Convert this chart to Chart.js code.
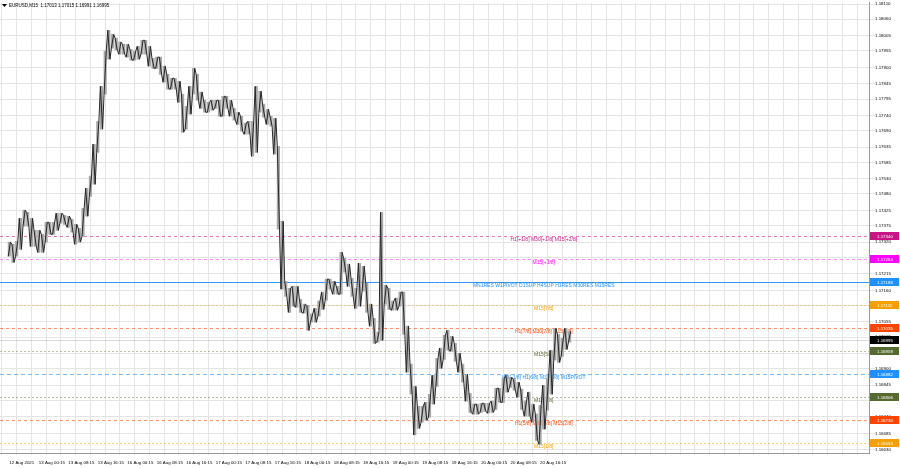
<!DOCTYPE html>
<html>
<head>
<meta charset="utf-8">
<script src="https://cdn.jsdelivr.net/npm/chart.js@4/dist/chart.umd.min.js"></script>
<style>
  html, body { margin: 0; padding: 0; background: #fff; }
  #wrap { width: 900px; height: 468px; }
</style>
</head>
<body>
<div id="wrap"><canvas id="chart" width="900" height="468"></canvas></div>
<script>
// hourly high / low of EURUSD, 12 Aug 16:00 -> 20 Aug close
const highs = [
  1.17320, 1.17313, 1.17323, 1.17399, 1.17426, 1.17419, 1.17399, 1.17359, 1.17359, 1.17346,
  1.17386, 1.17386, 1.17386, 1.17416, 1.17416, 1.17409, 1.17406, 1.17396, 1.17379, 1.17366,
  1.17432, 1.17499, 1.17539, 1.17645, 1.17721, 1.17837, 1.17954, 1.18023, 1.18010, 1.17997,
  1.17984, 1.17977, 1.17977, 1.17960, 1.17954, 1.17970, 1.17990, 1.17990, 1.17970, 1.17930,
  1.17934, 1.17934, 1.17904, 1.17877, 1.17864, 1.17864, 1.17854, 1.17811, 1.17771, 1.17837,
  1.17897, 1.17877, 1.17818, 1.17791, 1.17784, 1.17791, 1.17791, 1.17791, 1.17804, 1.17804,
  1.17791, 1.17764, 1.17751, 1.17738, 1.17715, 1.17721, 1.17721, 1.17837, 1.17821, 1.17778,
  1.17761, 1.17738, 1.17731, 1.17638, 1.17389, 1.17190, 1.17167, 1.17173, 1.17173, 1.17130,
  1.17114, 1.17110, 1.17081, 1.17100, 1.17124, 1.17154, 1.17197, 1.17197, 1.17190, 1.17173,
  1.17286, 1.17266, 1.17247, 1.17200, 1.17167, 1.17250, 1.17240, 1.17183, 1.17114, 1.17067,
  1.17021, 1.17419, 1.17177, 1.17167, 1.17124, 1.17134, 1.17154, 1.17154, 1.17041, 1.16915,
  1.16841, 1.16775, 1.16775, 1.16788, 1.16815, 1.16878, 1.16934, 1.16968, 1.17011, 1.17027,
  1.17007, 1.16984, 1.16951, 1.16915, 1.16881, 1.16818, 1.16782, 1.16782, 1.16785, 1.16785,
  1.16785, 1.16792, 1.16835, 1.16835, 1.16868, 1.16878, 1.16871, 1.16865, 1.16855, 1.16832,
  1.16792, 1.16822, 1.16782, 1.16749, 1.16778, 1.16845, 1.16868, 1.16961, 1.17034, 1.17014,
  1.17001, 1.17034, 1.17024
];
const lows = [
  1.17273, 1.17253, 1.17273, 1.17296, 1.17373, 1.17373, 1.17306, 1.17306, 1.17286, 1.17286,
  1.17320, 1.17346, 1.17346, 1.17359, 1.17383, 1.17379, 1.17369, 1.17353, 1.17313, 1.17320,
  1.17339, 1.17406, 1.17472, 1.17512, 1.17618, 1.17695, 1.17811, 1.17927, 1.17964, 1.17957,
  1.17944, 1.17944, 1.17934, 1.17924, 1.17924, 1.17927, 1.17944, 1.17944, 1.17904, 1.17897,
  1.17897, 1.17877, 1.17851, 1.17828, 1.17828, 1.17828, 1.17784, 1.17685, 1.17695, 1.17745,
  1.17811, 1.17791, 1.17764, 1.17751, 1.17751, 1.17758, 1.17764, 1.17738, 1.17738, 1.17764,
  1.17738, 1.17725, 1.17711, 1.17688, 1.17678, 1.17678, 1.17605, 1.17618, 1.17751, 1.17735,
  1.17711, 1.17705, 1.17612, 1.17363, 1.17164, 1.17140, 1.17087, 1.17107, 1.17104, 1.17087,
  1.17084, 1.17027, 1.17054, 1.17054, 1.17074, 1.17097, 1.17127, 1.17164, 1.17147, 1.17147,
  1.17147, 1.17220, 1.17173, 1.17140, 1.17100, 1.17107, 1.17157, 1.17087, 1.17041, 1.16984,
  1.16988, 1.16994, 1.17114, 1.17097, 1.17094, 1.17094, 1.17107, 1.17014, 1.16888, 1.16815,
  1.16680, 1.16702, 1.16722, 1.16729, 1.16739, 1.16782, 1.16841, 1.16901, 1.16931, 1.16961,
  1.16958, 1.16924, 1.16888, 1.16855, 1.16792, 1.16755, 1.16749, 1.16749, 1.16755, 1.16758,
  1.16752, 1.16755, 1.16765, 1.16788, 1.16788, 1.16822, 1.16838, 1.16828, 1.16805, 1.16765,
  1.16742, 1.16742, 1.16722, 1.16662, 1.16649, 1.16699, 1.16762, 1.16815, 1.16928, 1.16921,
  1.16941, 1.16964, 1.16988
];

// one label every 8 bars (8 hours)
const timeLabels = [
  "12 Aug 2021", "13 Aug 00:15", "13 Aug 08:15", "13 Aug 16:15", "16 Aug 00:15", "16 Aug 08:15",
  "16 Aug 16:15", "17 Aug 00:15", "17 Aug 08:15", "17 Aug 16:15", "18 Aug 00:15", "18 Aug 08:15",
  "18 Aug 16:15", "19 Aug 00:15", "19 Aug 08:15", "19 Aug 16:15", "20 Aug 00:15", "20 Aug 08:15",
  "20 Aug 16:15"
];

const priceTicks = [
  1.18110, 1.18060, 1.18005, 1.17955, 1.17900, 1.17845, 1.17795, 1.17740, 1.17690, 1.17635,
  1.17585, 1.17530, 1.17480, 1.17425, 1.17375, 1.17320, 1.17270, 1.17215, 1.17160, 1.17110,
  1.17055, 1.17005, 1.16950, 1.16900, 1.16845, 1.16795, 1.16740, 1.16685, 1.16630
];

// murrey levels shown as horizontal lines
const levelPrices = [1.17340, 1.17264, 1.17188, 1.17111, 1.17035, 1.16995, 1.16959, 1.16882, 1.16806, 1.16730, 1.16653];
const levelTexts = [
  "H1[+1/8] M30[+1/8] M15[+2/8]",
  "M15[+1/8]",
  "MN1RES W1PIVOT D1SUP H4SUP H1RES M30RES M15RES",
  "M15[7/8]",
  "H1[7/8] M30[7/8] M15[6/8]",
  "",
  "M15[5/8]",
  "W1[-1/8] H1[6/8] M30[6/8] M15PIVOT",
  "M15[3/8]",
  "H1[5/8] M30[5/8] M15[2/8]",
  "M15[1/8]"
];
const levelColors = ["#c71585", "#ff00ff", "#1e90ff", "#f5a000", "#ff4500", "#000000", "#556b2f", "#1e90ff", "#556b2f", "#ff4500", "#f5a000"];
const lineColors = ["rgba(220,60,150,0.7)", "rgba(255,0,255,0.45)", "#2f95ff", "rgba(245,160,0,0.45)", "rgba(255,69,0,0.6)",
  "rgba(0,0,0,0.15)", "rgba(85,107,47,0.4)", "rgba(30,144,255,0.6)", "rgba(85,107,47,0.45)", "rgba(255,69,0,0.6)", "rgba(245,160,0,0.5)"];
const lineDash = [[3, 3], [3, 3], [], [2, 2], [3, 3], [], [2, 2], [4, 3], [2, 2], [3, 3], [2, 2]];

const header = "EURUSD,M15  1.17013 1.17015 1.16991 1.16995";
const font = "'Liberation Sans', Arial, sans-serif";

// trace every bar low -> high -> low so the hourly ranges read as a dense price line
const trace = [];
highs.forEach((h, i) => {
  const a = i % 2 ? h : lows[i];
  const b = i % 2 ? lows[i] : h;
  trace.push({ x: i - 0.3, y: a }, { x: i + 0.3, y: b });
});

const levelPlugin = {
  id: "levels",
  beforeDatasetsDraw(chart) {
    const { ctx, chartArea: a, scales: { x, y } } = chart;
    const tx = x.getPixelForValue(145);
    ctx.save();
    levelPrices.forEach((p, k) => {
      const py = Math.round(y.getPixelForValue(p)) + 0.5;
      ctx.strokeStyle = lineColors[k];
      ctx.setLineDash(lineDash[k]);
      ctx.lineWidth = 1;
      ctx.beginPath();
      ctx.moveTo(a.left, py);
      ctx.lineTo(a.right, py);
      ctx.stroke();
      if (levelTexts[k]) {
        ctx.fillStyle = levelColors[k];
        ctx.font = "5px " + font;
        ctx.textAlign = "center";
        ctx.textBaseline = "top";
        ctx.fillText(levelTexts[k], tx, py + 1);
      }
    });
    ctx.restore();
  },
  afterDraw(chart) {
    const { ctx, chartArea: a, scales: { y } } = chart;
    ctx.save();
    levelPrices.forEach((p, k) => {
      const py = Math.round(y.getPixelForValue(p));
      ctx.fillStyle = levelColors[k];
      ctx.fillRect(a.right + 1, py - 4, 29, 8);
      ctx.fillStyle = "#fff";
      ctx.font = "4.4px " + font;
      ctx.textAlign = "left";
      ctx.textBaseline = "middle";
      ctx.fillText(p.toFixed(5), a.right + 8, py + 0.5);
    });
    // header
    ctx.fillStyle = "#000";
    ctx.beginPath();
    ctx.moveTo(2, 4); ctx.lineTo(7, 4); ctx.lineTo(4.5, 7);
    ctx.fill();
    ctx.font = "4.5px " + font;
    ctx.textAlign = "left";
    ctx.textBaseline = "middle";
    ctx.fillText(header, 9, 5.5);
    ctx.restore();
  }
};

new Chart(document.getElementById("chart"), {
  type: "bar",
  data: {
    datasets: [{
      type: "line",
      data: trace,
      borderColor: "#262626",
      borderWidth: 1,
      pointRadius: 0,
      tension: 0
    }, {
      data: highs.map((h, i) => ({ x: i, y: [lows[i], h] })),
      backgroundColor: "#a8a8a8",
      barThickness: 2.5,
      grouped: false
    }]
  },
  options: {
    responsive: false,
    animation: false,
    devicePixelRatio: 1,
    layout: { padding: 0 },
    plugins: { legend: { display: false }, tooltip: { enabled: false } },
    scales: {
      x: {
        type: "linear",
        min: -0.5,
        max: 231.2,
        afterBuildTicks: s => {
          const t = [];
          for (let v = 0; v <= 231; v += 4) t.push({ value: v });
          s.ticks = t;
        },
        afterFit: s => { s.height = 15; },
        grid: { color: "#e4e4e4", tickLength: 2 },
        border: { color: "#9a9a9a" },
        ticks: {
          autoSkip: false,
          maxRotation: 0,
          align: "start",
          padding: 5,
          color: "#000",
          font: { family: font, size: 4.4 },
          callback: v => (v % 8 === 0 && v / 8 < timeLabels.length) ? timeLabels[v / 8] : ""
        }
      },
      y: {
        position: "right",
        min: 1.16620,
        max: 1.18115,
        afterBuildTicks: s => { s.ticks = priceTicks.map(v => ({ value: v })); },
        afterFit: s => { s.width = 31; },
        grid: { color: "#e4e4e4", tickLength: 6 },
        border: { color: "#9a9a9a" },
        ticks: {
          padding: 0,
          color: "#000",
          font: { family: font, size: 4.4 },
          callback: v => Number(v).toFixed(5)
        }
      }
    }
  },
  plugins: [levelPlugin]
});
</script>
</body>
</html>
